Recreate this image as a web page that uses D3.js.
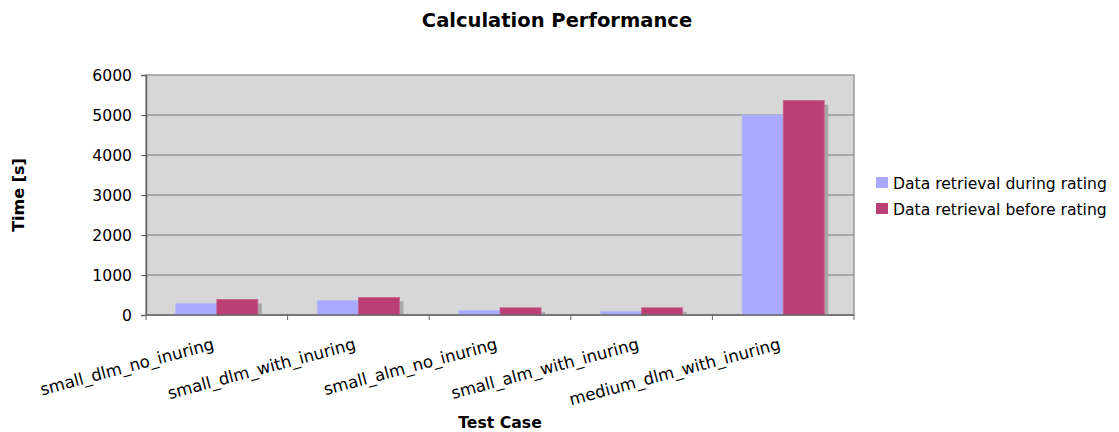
<!DOCTYPE html>
<html>
<head>
<meta charset="utf-8">
<script src="https://cdn.jsdelivr.net/npm/d3@7"></script>
<style>
  html, body { margin: 0; padding: 0; background: #ffffff; }
  svg { display: block; }
  text { font-family: "DejaVu Sans", Verdana, sans-serif; fill: #000; }
</style>
</head>
<body>
<svg id="chart" width="1119" height="432"></svg>
<script>
// Test cases on the x axis
const categories = [
  "small_dlm_no_inuring",
  "small_dlm_with_inuring",
  "small_alm_no_inuring",
  "small_alm_with_inuring",
  "medium_dlm_with_inuring"
];

// Series names and their timings in seconds
const seriesNames = ["Data retrieval during rating", "Data retrieval before rating"];
const duringRating = [290, 360, 110, 90, 5000];
const beforeRating = [390, 440, 180, 180, 5360];

// Y axis ticks
const yTicks = [0, 1000, 2000, 3000, 4000, 5000, 6000];

const colors = ["#a9a9ff", "#ba3f75"];
const strokeColors = ["#b8b8ff", "#c8628f"];

const svg = d3.select("#chart");
const plot = { left: 146, right: 854, top: 75, bottom: 315 };

const x0 = d3.scaleBand()
  .domain(categories)
  .range([plot.left, plot.right])
  .paddingInner(0)
  .paddingOuter(0);

const bw = x0.bandwidth();
const x1 = d3.scaleBand()
  .domain(seriesNames)
  .range([bw * 0.21, bw * 0.79])
  .padding(0);

const y = d3.scaleLinear()
  .domain([0, 6000])
  .range([plot.bottom, plot.top]);

// Title
svg.append("text")
  .attr("x", 557)
  .attr("y", 27)
  .attr("text-anchor", "middle")
  .style("font-size", "19.5px")
  .style("font-weight", "bold")
  .text("Calculation Performance");

// Plot background
svg.append("rect")
  .attr("x", plot.left)
  .attr("y", plot.top)
  .attr("width", plot.right - plot.left)
  .attr("height", plot.bottom - plot.top)
  .attr("fill", "#d7d7d7")
  .attr("stroke", "#9a9a9a")
  .attr("stroke-width", 1.5);

// Horizontal gridlines
svg.append("g")
  .selectAll("line")
  .data(yTicks.filter(t => t > 0 && t < 6000))
  .join("line")
  .attr("x1", plot.left)
  .attr("x2", plot.right)
  .attr("y1", d => y(d))
  .attr("y2", d => y(d))
  .attr("stroke", "#7a7a7a")
  .attr("stroke-width", 1.2);

// Bars grouped by test case
const rows = categories.map((c, i) => ({ cat: c, values: [duringRating[i], beforeRating[i]] }));

const groups = svg.append("g")
  .selectAll("g")
  .data(rows)
  .join("g")
  .attr("transform", d => `translate(${x0(d.cat)},0)`);

const barData = d => d.values.map((v, k) => ({ name: seriesNames[k], value: v, k }));

// Drop shadows behind the bars
groups.selectAll("rect.shadow")
  .data(barData)
  .join("rect")
  .attr("class", "shadow")
  .attr("x", d => x1(d.name) + 4)
  .attr("y", d => y(d.value) + 4)
  .attr("width", x1.bandwidth())
  .attr("height", d => Math.max(0, y(0) - y(d.value) - 4))
  .attr("fill", "#a9a9a9");

groups.selectAll("rect.bar")
  .data(barData)
  .join("rect")
  .attr("class", "bar")
  .attr("x", d => x1(d.name))
  .attr("y", d => y(d.value))
  .attr("width", x1.bandwidth())
  .attr("height", d => y(0) - y(d.value))
  .attr("fill", d => colors[d.k])
  .attr("stroke", d => strokeColors[d.k])
  .attr("stroke-width", 0.8);

// Y axis
const yAxis = d3.axisLeft(y)
  .tickValues(yTicks)
  .tickSize(5)
  .tickPadding(9)
  .tickFormat(d3.format("d"));

const gy = svg.append("g")
  .attr("transform", `translate(${plot.left},0)`)
  .call(yAxis);
gy.select(".domain").attr("stroke", "#666").attr("stroke-width", 1.5);
gy.selectAll(".tick line").attr("stroke", "#666");
gy.selectAll(".tick text")
  .style("font-size", "15.6px")
  .style("font-family", "'DejaVu Sans', Verdana, sans-serif")
  .attr("fill", "#000");

// X axis: ticks at category boundaries
const boundaries = categories.map(c => x0(c)).concat([plot.right]);
svg.append("line")
  .attr("x1", plot.left).attr("x2", plot.right)
  .attr("y1", plot.bottom).attr("y2", plot.bottom)
  .attr("stroke", "#666").attr("stroke-width", 1.5);
svg.append("g")
  .selectAll("line")
  .data(boundaries)
  .join("line")
  .attr("x1", d => d).attr("x2", d => d)
  .attr("y1", plot.bottom).attr("y2", plot.bottom + 5)
  .attr("stroke", "#666");

// Rotated category labels
svg.append("g")
  .selectAll("text")
  .data(categories)
  .join("text")
  .attr("transform", d => `translate(${x0(d) + bw / 2 - 5},${plot.bottom + 22}) rotate(-15)`)
  .attr("text-anchor", "end")
  .attr("dy", "0.75em")
  .style("font-size", "16.6px")
  .text(d => d);

// Axis titles
svg.append("text")
  .attr("x", (plot.left + plot.right) / 2)
  .attr("y", 428)
  .attr("text-anchor", "middle")
  .style("font-size", "15.7px")
  .style("font-weight", "bold")
  .text("Test Case");

svg.append("text")
  .attr("transform", "translate(24,195) rotate(-90)")
  .attr("text-anchor", "middle")
  .style("font-size", "16px")
  .style("font-weight", "bold")
  .text("Time [s]");

// Legend
const legend = svg.append("g")
  .selectAll("g")
  .data(seriesNames)
  .join("g")
  .attr("transform", (d, i) => `translate(876,${177 + i * 26})`);

legend.append("rect")
  .attr("width", 12)
  .attr("height", 11)
  .attr("fill", (d, i) => colors[i]);

legend.append("text")
  .attr("x", 17)
  .attr("y", 11.5)
  .style("font-size", "15.6px")
  .text(d => d);
</script>
</body>
</html>
